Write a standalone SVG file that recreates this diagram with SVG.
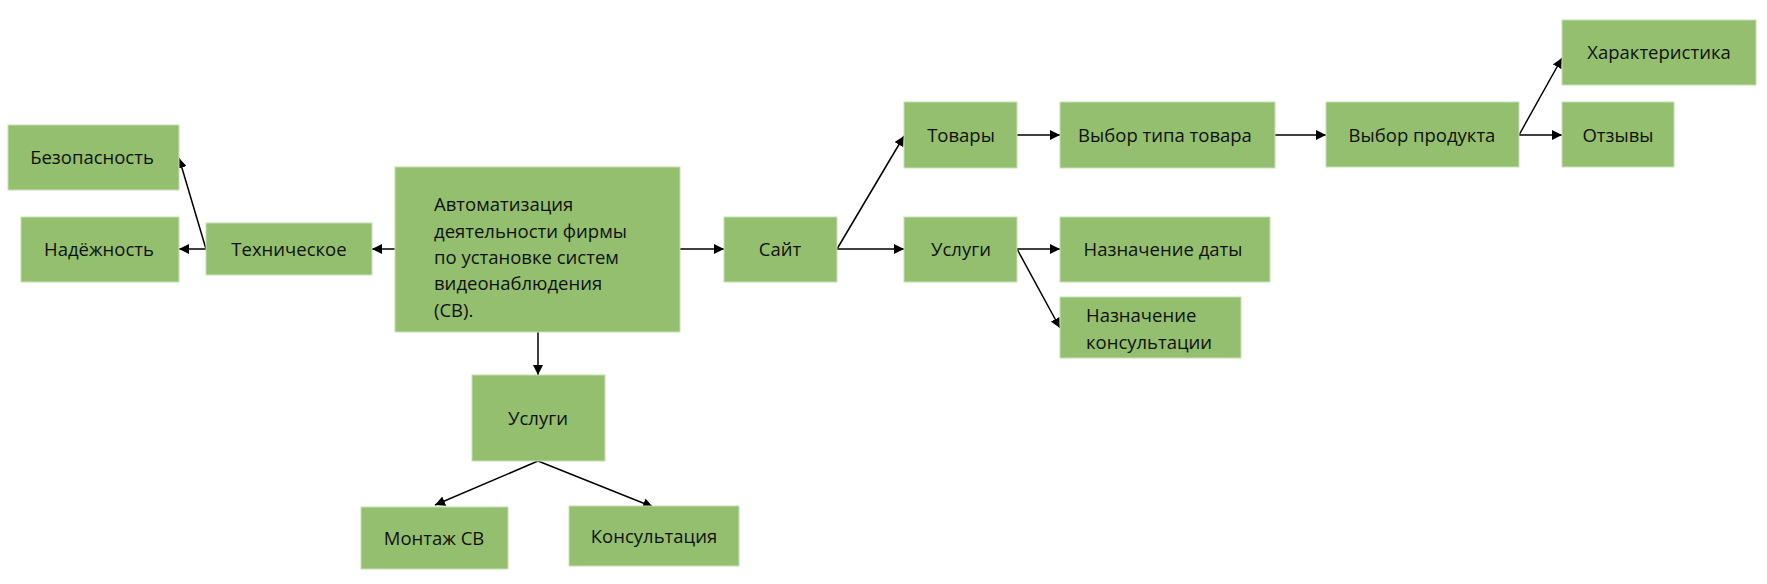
<svg xmlns="http://www.w3.org/2000/svg" width="1767" height="584" viewBox="0 0 1767 584">
<defs>
<marker id="arr" viewBox="0 0 10 10" refX="10" refY="5" markerWidth="10" markerHeight="10" markerUnits="userSpaceOnUse" orient="auto">
<path d="M0,0 L10,5 L0,10 Z" fill="#000"/>
</marker>
<style>
.n rect{fill:#93bf6f;stroke:#c5e0b4;stroke-width:1}
.n text{font-family:"Open Sans","Liberation Sans",sans-serif;font-size:18.5px;fill:#111}
.c{text-anchor:middle}
#connectors path{fill:none;stroke:#000;stroke-width:1.5;marker-end:url(#arr)}
</style>
</defs>
<rect width="1767" height="584" fill="#fff"/>
<g id="connectors">
<path d="M395,249 L372,249"/>
<path d="M206,249 L179,249"/>
<path d="M206,249 L179,158"/>
<path d="M680,249 L724,249"/>
<path d="M538,332 L538,375"/>
<path d="M538,461 L435,505"/>
<path d="M538,461 L653,507"/>
<path d="M837,249 L904,136"/>
<path d="M837,249 L904,249"/>
<path d="M1017,135 L1060,135"/>
<path d="M1017,249 L1060,249"/>
<path d="M1017,249 L1060,328"/>
<path d="M1275,135 L1326,135"/>
<path d="M1519,135 L1562,135"/>
<path d="M1519,135 L1562,58"/>
</g>
<g id="n-main" class="n"><rect x="395" y="167" width="285" height="165"/>
<text x="434" y="211">Автоматизация</text>
<text x="434" y="238">деятельности фирмы</text>
<text x="434" y="264">по установке систем</text>
<text x="434" y="290">видеонаблюдения</text>
<text x="434" y="317">(СВ).</text></g>
<g id="n-tech" class="n"><rect x="206" y="223" width="166" height="52"/><text class="c" x="289" y="256">Техническое</text></g>
<g id="n-bez" class="n"><rect x="8" y="125" width="171" height="65"/><text class="c" x="92" y="164">Безопасность</text></g>
<g id="n-nad" class="n"><rect x="21" y="217" width="158" height="65"/><text class="c" x="99" y="256">Надёжность</text></g>
<g id="n-usl1" class="n"><rect x="472" y="375" width="133" height="86"/><text class="c" x="538" y="425">Услуги</text></g>
<g id="n-mont" class="n"><rect x="361" y="507" width="147" height="62"/><text class="c" x="434" y="545">Монтаж СВ</text></g>
<g id="n-kons" class="n"><rect x="569" y="506" width="170" height="60"/><text class="c" x="654" y="543">Консультация</text></g>
<g id="n-site" class="n"><rect x="724" y="217" width="113" height="65"/><text class="c" x="780" y="256">Сайт</text></g>
<g id="n-tov" class="n"><rect x="904" y="102" width="113" height="66"/><text class="c" x="961" y="142">Товары</text></g>
<g id="n-usl2" class="n"><rect x="904" y="217" width="113" height="65"/><text class="c" x="961" y="256">Услуги</text></g>
<g id="n-vtt" class="n"><rect x="1060" y="102" width="215" height="66"/><text class="c" x="1165" y="142">Выбор типа товара</text></g>
<g id="n-date" class="n"><rect x="1060" y="217" width="210" height="65"/><text class="c" x="1163" y="256">Назначение даты</text></g>
<g id="n-nk" class="n"><rect x="1060" y="297" width="181" height="61"/>
<text x="1086" y="322">Назначение</text>
<text x="1086" y="349">консультации</text></g>
<g id="n-vp" class="n"><rect x="1326" y="102" width="193" height="65"/><text class="c" x="1422" y="142">Выбор продукта</text></g>
<g id="n-har" class="n"><rect x="1562" y="20" width="194" height="65"/><text class="c" x="1659" y="59">Характеристика</text></g>
<g id="n-otz" class="n"><rect x="1562" y="102" width="112" height="65"/><text class="c" x="1618" y="142">Отзывы</text></g>
</svg>
